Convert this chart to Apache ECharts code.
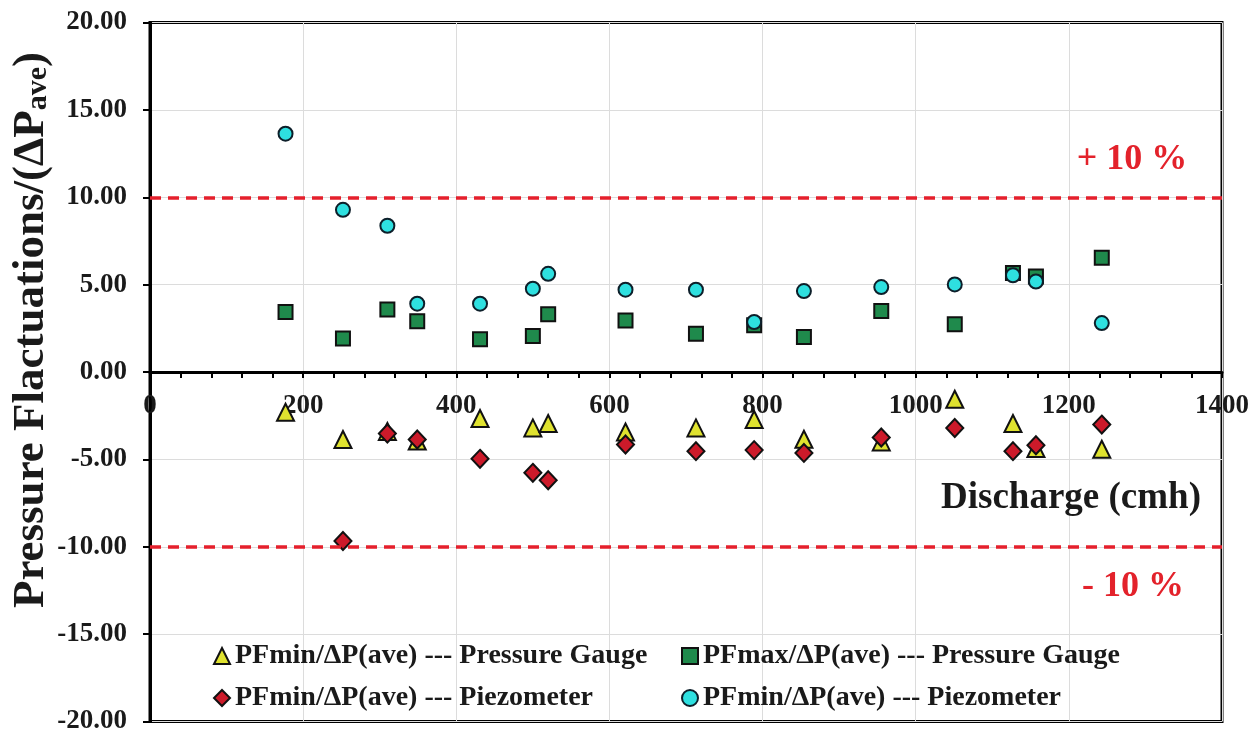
<!DOCTYPE html>
<html>
<head>
<meta charset="utf-8">
<script src="https://cdn.jsdelivr.net/npm/echarts@6/dist/echarts.min.js"></script>
<style>
html,body{margin:0;padding:0;background:#fff;}
#chart{width:1252px;height:731px;}
</style>
</head>
<body>
<div id="chart"></div>
<script>
// Discharge (cmh) shared by all series
var discharge = [177, 252, 310, 349, 431, 500, 520, 621, 713, 789, 854, 955, 1051, 1127, 1157, 1243];
// PFmin/ΔP(ave) --- Pressure Gauge (triangles)
var gaugeMin = [-2.30, -3.86, -3.40, -3.95, -2.66, -3.20, -2.95, -3.43, -3.20, -2.72, -3.85, -4.00, -1.56, -2.95, -4.38, -4.42];
// PFmax/ΔP(ave) --- Pressure Gauge (squares)
var gaugeMax = [3.43, 1.91, 3.57, 2.90, 1.87, 2.06, 3.30, 2.95, 2.19, 2.67, 2.00, 3.49, 2.73, 5.66, 5.47, 6.54];
// PFmin/ΔP(ave) --- Piezometer (diamonds), no point at first discharge
var piezoMin = [null, -9.67, -3.52, -3.86, -4.97, -5.77, -6.19, -4.15, -4.53, -4.47, -4.63, -3.75, -3.20, -4.53, -4.19, -3.01];
// PFmin/ΔP(ave) --- Piezometer (circles)
var piezoCircle = [13.64, 9.28, 8.37, 3.91, 3.91, 4.77, 5.62, 4.71, 4.71, 2.86, 4.63, 4.86, 5.01, 5.53, 5.18, 2.80];
var limits = [10, -10];
var limitLabels = ['+ 10 %', '- 10 %'];

function pairs(ys) {
  var out = [];
  for (var i = 0; i < discharge.length; i++) {
    if (ys[i] !== null) out.push([discharge[i], ys[i]]);
  }
  return out;
}

var FONT = 'Liberation Serif';
var names = [
  'PFmin/ΔP(ave) --- Pressure Gauge',
  'PFmax/ΔP(ave) --- Pressure Gauge',
  'PFmin/ΔP(ave) --- Piezometer',
  'PFmin/ΔP(ave) --- Piezometer '
];

var GRID_TOP = 22.5, GRID_BOTTOM = 9.5, H = 731;
var plotH = H - GRID_TOP - GRID_BOTTOM;

var chart = echarts.init(document.getElementById('chart'), null, {renderer: 'canvas'});
var legendText = {fontFamily: FONT, fontWeight: 'bold', fontSize: 28, color: '#1a1a1a', lineHeight: 28};

var option = {
  backgroundColor: '#fff',
  animation: false,
  grid: {left: 150, right: 30, top: GRID_TOP, bottom: GRID_BOTTOM, containLabel: false, outerBoundsMode: 'none',
    show: true, borderColor: '#000', borderWidth: 3, backgroundColor: 'transparent'},
  xAxis: {
    type: 'value', min: 0, max: 1400, interval: 200, position: 'bottom', offset: -plotH / 2,
    axisLine: {show: true, onZero: false, lineStyle: {color: '#000', width: 3}},
    axisTick: {show: true, length: 6, lineStyle: {color: '#000', width: 2}},
    minorTick: {show: true, splitNumber: 5, length: 6, lineStyle: {color: '#000', width: 2}},
    splitLine: {show: true, lineStyle: {color: '#dcdcdc', width: 1}},
    axisLabel: {fontFamily: FONT, fontWeight: 'bold', fontSize: 27, color: '#1a1a1a', margin: 21,
      showMinLabel: true, showMaxLabel: true, formatter: function (v) { return String(v); }}
  },
  yAxis: {
    type: 'value', min: -20, max: 20, interval: 5,
    axisLine: {show: true, lineStyle: {color: '#000', width: 3}},
    axisTick: {show: true, length: 7, lineStyle: {color: '#000', width: 2}},
    splitLine: {show: true, lineStyle: {color: '#dcdcdc', width: 1}},
    axisLabel: {fontFamily: FONT, fontWeight: 'bold', fontSize: 27, color: '#1a1a1a', margin: 23,
      formatter: function (v) { return v.toFixed(2); }}
  },
  legend: [
    {data: [names[0], names[2]], orient: 'vertical', left: 213, top: 642, padding: 0,
      itemWidth: 16, itemHeight: 16, itemGap: 14, textStyle: legendText},
    {data: [names[1], names[3]], orient: 'vertical', left: 681, top: 642, padding: 0,
      itemWidth: 16, itemHeight: 16, itemGap: 14, textStyle: legendText}
  ],
  graphic: [
    {type: 'text', x: 31, y: 330, rotation: Math.PI / 2, z: 10,
      style: {text: 'Pressure Flactuations/(ΔP{s|ave})', align: 'center', verticalAlign: 'middle',
        fontFamily: FONT, fontWeight: 'bold', fontSize: 45, lineHeight: 44, fill: '#1a1a1a',
        rich: {s: {fontFamily: FONT, fontWeight: 'bold', fontSize: 30, lineHeight: 14, fill: '#1a1a1a', verticalAlign: 'bottom'}}}},
    {type: 'text', x: 1071, y: 498, z: 10,
      style: {text: 'Discharge (cmh)', align: 'center', verticalAlign: 'middle',
        fontFamily: FONT, fontWeight: 'bold', fontSize: 37, fill: '#1a1a1a'}},
    {type: 'text', x: 1132, y: 160, z: 10,
      style: {text: limitLabels[0], align: 'center', verticalAlign: 'middle',
        fontFamily: FONT, fontWeight: 'bold', fontSize: 36, fill: '#e3222b'}},
    {type: 'text', x: 1133, y: 587, z: 10,
      style: {text: limitLabels[1], align: 'center', verticalAlign: 'middle',
        fontFamily: FONT, fontWeight: 'bold', fontSize: 36, fill: '#e3222b'}}
  ],
  series: [
    {name: names[0], type: 'scatter', symbol: 'triangle', symbolSize: 17, data: pairs(gaugeMin),
      itemStyle: {color: '#dfe22f', borderColor: '#111', borderWidth: 2, opacity: 1},
      markLine: {silent: true, symbol: 'none', label: {show: false},
        lineStyle: {color: '#e5202c', width: 3.5, type: [11, 7]},
        data: [{yAxis: limits[0]}, {yAxis: limits[1]}]}},
    {name: names[1], type: 'scatter', symbol: 'rect', symbolSize: 14, data: pairs(gaugeMax),
      itemStyle: {color: '#1f8a4c', borderColor: '#111', borderWidth: 2, opacity: 1}},
    {name: names[2], type: 'scatter', symbol: 'diamond', symbolSize: [17, 18], data: pairs(piezoMin),
      itemStyle: {color: '#cc1a2a', borderColor: '#111', borderWidth: 2, opacity: 1}},
    {name: names[3], type: 'scatter', symbol: 'circle', symbolSize: 14, data: pairs(piezoCircle),
      itemStyle: {color: '#2ee0e0', borderColor: '#0d1f2a', borderWidth: 2, opacity: 1}}
  ]
};
chart.setOption(option);
</script>
</body>
</html>
